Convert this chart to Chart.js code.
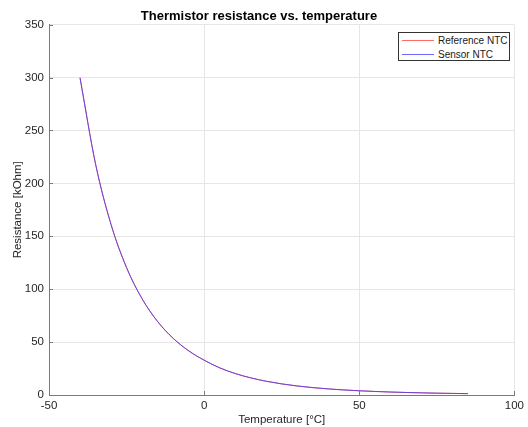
<!DOCTYPE html>
<html>
<head>
<meta charset="utf-8">
<script src="https://cdn.jsdelivr.net/npm/chart.js@4.4.0/dist/chart.umd.min.js"></script>
<style>
  html, body { margin: 0; padding: 0; background: #fff; }
  #wrap { position: relative; width: 528px; height: 427px; }
  #legend {
    position: absolute; left: 398px; top: 32px; width: 112px; height: 29px;
    border: 1px solid #333; background: #fff; box-sizing: border-box;
    font: 10px "Liberation Sans", Arial, sans-serif; color: #1a1a1a;
    padding: 1px 0 0 3px; line-height: 13.6px; white-space: nowrap;
  }
  #legend .it { display: flex; align-items: center; gap: 4px; }
  #legend .sw { display: inline-block; width: 32px; height: 1px; }
</style>
</head>
<body>
<div id="wrap">
  <canvas id="c" width="528" height="427"></canvas>
  <div id="legend">
    <div class="it"><span class="sw" style="background:#ff6a6a"></span>Reference NTC</div>
    <div class="it"><span class="sw" style="background:#6a6aff"></span>Sensor NTC</div>
  </div>
</div>
<script>
// temperature [°C] and resistance [kOhm]
const temps = [-40, -35, -30, -25, -20, -15, -10, -5, 0, 5, 10, 15, 20, 25, 30, 35, 40, 45, 50, 55, 60, 65, 70, 75, 80, 85]
const refR = [300.0, 218.5, 161.2, 120.4, 91.0, 69.5, 53.6, 41.8, 32.9, 25.7, 20.3, 16.2, 13.0, 10.5, 8.53, 6.99, 5.76, 4.78, 3.99, 3.34, 2.82, 2.39, 2.04, 1.74, 1.50, 1.29]
const sensorR = [299.5, 218.2, 161.0, 120.3, 90.9, 69.4, 53.6, 41.8, 32.9, 25.7, 20.3, 16.2, 13.0, 10.5, 8.53, 6.99, 5.76, 4.78, 3.99, 3.34, 2.82, 2.39, 2.04, 1.74, 1.50, 1.29]
const xTicks = [-50, 0, 50, 100]
const yTicks = [0, 50, 100, 150, 200, 250, 300, 350]

const FONT = '"Liberation Sans", Arial, Helvetica, sans-serif'

const innerTicks = {
  id: 'innerTicks',
  afterDraw(chart) {
    const { ctx, chartArea: a, scales } = chart
    ctx.save()
    ctx.strokeStyle = '#7a7a7a'
    ctx.lineWidth = 1
    ctx.beginPath()
    xTicks.forEach(v => {
      const x = Math.round(scales.x.getPixelForValue(v)) + 0.5
      ctx.moveTo(x, a.bottom); ctx.lineTo(x, a.bottom - 4)
    })
    yTicks.forEach(v => {
      const y = Math.round(scales.y.getPixelForValue(v)) + 0.5
      ctx.moveTo(a.left, y); ctx.lineTo(a.left + 4, y)
    })
    ctx.stroke()
    ctx.restore()
  }
}

new Chart(document.getElementById('c'), {
  type: 'line',
  data: {
    datasets: [
      // sensor is drawn on top of the reference curve
      { label: 'Reference NTC', order: 2, data: temps.map((t, i) => ({ x: t, y: refR[i] })),
        borderColor: 'rgba(255,40,40,0.8)', borderWidth: 1, pointRadius: 0, cubicInterpolationMode: 'monotone' },
      { label: 'Sensor NTC', order: 1, data: temps.map((t, i) => ({ x: t, y: sensorR[i] })),
        borderColor: 'rgba(70,60,255,0.8)', borderWidth: 1, pointRadius: 0, cubicInterpolationMode: 'monotone' },
    ],
  },
  options: {
    responsive: false,
    animation: false,
    layout: { padding: { left: 0, right: 10, top: 0, bottom: 0 } },
    plugins: {
      legend: { display: false },
      tooltip: { enabled: false },
      title: {
        display: true, text: 'Thermistor resistance vs. temperature', color: '#000',
        font: { family: FONT, size: 13, weight: 'bold' }, padding: { top: 9, bottom: 0 },
      },
    },
    scales: {
      x: {
        type: 'linear', min: -50, max: 100,
        afterBuildTicks: s => { s.ticks = xTicks.map(v => ({ value: v })) },
        afterFit: s => { s.height = 32 },
        grid: { color: '#e6e6e6', drawTicks: false },
        border: { color: '#7a7a7a' },
        ticks: { color: '#262626', font: { family: FONT, size: 11.5 }, padding: 4, maxRotation: 0 },
        title: { display: true, text: 'Temperature [°C]', color: '#262626', font: { family: FONT, size: 11.5 }, padding: { top: 0, bottom: 0 } },
      },
      y: {
        type: 'linear', min: 0, max: 350,
        afterBuildTicks: s => { s.ticks = yTicks.map(v => ({ value: v })) },
        afterFit: s => { s.width = 49 },
        grid: { color: '#e6e6e6', drawTicks: false },
        border: { color: '#7a7a7a' },
        ticks: { color: '#262626', font: { family: FONT, size: 11.5 }, padding: 5 },
        title: { display: true, text: 'Resistance [kOhm]', color: '#262626', font: { family: FONT, size: 11.5 }, padding: { top: 11, bottom: 0 } },
      },
    },
  },
  plugins: [innerTicks],
})
</script>
</body>
</html>
